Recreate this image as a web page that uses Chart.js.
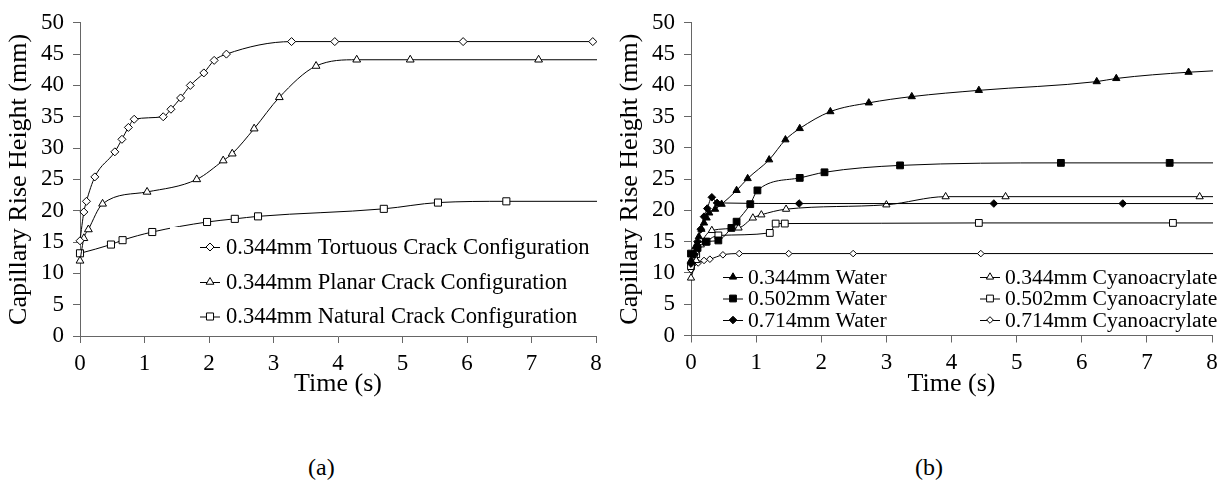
<!DOCTYPE html>
<html><head><meta charset="utf-8">
<script src="https://cdn.jsdelivr.net/npm/chart.js@4.4.1/dist/chart.umd.min.js"></script>
<style>
html,body{margin:0;padding:0;background:#fff;width:1228px;height:484px;overflow:hidden;}
.cap{position:absolute;font-family:"Liberation Serif";font-size:24px;color:#000;top:453px;line-height:28px;}
</style></head><body>
<canvas id="ca" width="614" height="400" style="position:absolute;left:0;top:0"></canvas>
<canvas id="cb" width="614" height="400" style="position:absolute;left:614px;top:0"></canvas>
<div class="cap" style="left:308px">(a)</div>
<div class="cap" style="left:915px">(b)</div>
<script>
// ---------- data: chart (a) ----------
const xTicksA = [0,1,2,3,4,5,6,7,8];
const yTicksA = [0,5,10,15,20,25,30,35,40,45,50];
const labelsA = ["0.344mm Tortuous Crack Configuration","0.344mm Planar Crack Configuration","0.344mm Natural Crack Configuration"];
const tortT = [0.00,0.06,0.10,0.23,0.54,0.65,0.75,0.84,1.29,1.41,1.56,1.71,1.92,2.08,2.27,3.28,3.95,5.94,7.95,8.6];
const tortH = [15.2,19.8,21.5,25.4,29.4,31.4,33.3,34.6,35.0,36.2,38.0,40.0,42.0,44.0,45.0,47.0,47.0,47.0,47.0,47.0];
const planT = [0.00,0.06,0.13,0.35,1.04,1.81,2.22,2.36,2.70,3.09,3.66,4.29,5.12,7.11,8.6];
const planH = [12.0,15.6,17.0,21.1,23.0,25.0,28.0,29.1,33.1,38.1,43.1,44.1,44.1,44.1,44.1];
const natT  = [0.00,0.48,0.66,1.12,1.97,2.40,2.76,4.71,5.55,6.61,8.6];
const natH  = [13.2,14.6,15.3,16.6,18.2,18.7,19.1,20.3,21.3,21.5,21.5];
// ---------- data: chart (b) ----------
const labelsB = ["0.344mm Water","0.502mm Water","0.714mm Water","0.344mm Cyanoacrylate","0.502mm Cyanoacrylate","0.714mm Cyanoacrylate"];
const w344T = [0.00,0.07,0.12,0.16,0.20,0.24,0.28,0.37,0.47,0.70,0.87,1.20,1.45,1.67,2.14,2.73,3.39,4.42,6.23,6.53,7.64,8.6];
const w344H = [12.0,14.2,15.8,17.0,18.0,18.8,19.6,20.2,21.0,23.2,25.1,28.1,31.3,33.1,35.8,37.2,38.2,39.2,40.6,41.1,42.1,42.6];
const w502T = [0.00,0.10,0.23,0.42,0.62,0.70,0.91,1.02,1.67,2.05,3.21,5.68,7.35,8.6];
const w502H = [13.1,14.0,15.0,15.2,17.2,18.2,21.0,23.2,25.2,26.1,27.2,27.6,27.6,27.6];
const w714T = [0.00,0.05,0.10,0.15,0.20,0.25,0.32,0.40,1.66,4.65,6.63,8.6];
const w714H = [11.5,13.0,15.0,17.0,19.0,20.3,22.1,21.2,21.1,21.1,21.1,21.1];
const c344T = [0.00,0.08,0.15,0.32,0.73,0.95,1.08,1.46,3.00,3.91,4.83,7.81,8.6];
const c344H = [9.2,12.0,14.5,16.8,17.2,18.8,19.3,20.2,20.9,22.2,22.2,22.2,22.2];
const c502T = [0.00,0.08,0.24,0.42,1.21,1.30,1.44,4.42,7.40,8.6];
const c502H = [11.1,13.0,15.0,16.0,16.4,17.9,17.9,18.0,18.0,18.0];
const c714T = [0.00,0.11,0.20,0.29,0.49,0.74,1.50,2.49,4.45,8.6];
const c714H = [10.5,11.6,12.0,12.2,12.9,13.1,13.1,13.1,13.1,13.1];

const FONT = "Liberation Serif";
const pts = (t,h) => t.map((x,i)=>({x:x,y:h[i]}));

function ds(label, t, h, style, filled, radius){
  return {label, data: pts(t,h), showLine:true, borderColor:'#000', borderWidth:1,
    pointStyle:style, pointRadius:radius, pointHoverRadius:radius,
    pointBackgroundColor: filled ? '#000' : '#fff', pointBorderColor:'#000', pointBorderWidth:1,
    cubicInterpolationMode:'monotone', fill:false, clip:{left:8,top:8,right:1,bottom:8}};
}

const legendPlugin = {
  id:'customLegend',
  afterDatasetsDraw(chart, args, opts){
    if(!opts || !opts.items) return;
    const ctx = chart.ctx;
    ctx.save();
    if (opts.box){ ctx.fillStyle='#fff'; ctx.fillRect(opts.box[0],opts.box[1],opts.box[2],opts.box[3]); }
    ctx.font = opts.fontSize + 'px "' + FONT + '"';
    ctx.textBaseline = 'middle';
    opts.items.forEach(it=>{
      const d = chart.data.datasets[it.index];
      ctx.strokeStyle='#000'; ctx.lineWidth=1;
      ctx.beginPath(); ctx.moveTo(it.x-opts.seg, it.y+0.5); ctx.lineTo(it.x+opts.seg, it.y+0.5); ctx.stroke();
      ctx.fillStyle = d.pointBackgroundColor; ctx.strokeStyle='#000'; ctx.lineWidth=1;
      Chart.helpers.drawPoint(ctx, {pointStyle:d.pointStyle, radius:d.pointRadius, borderWidth:1, rotation:0}, it.x, it.y);
      ctx.fillStyle='#000';
      ctx.fillText(d.label, it.x+opts.gap, it.y+1);
    });
    ctx.restore();
  }
};

function axes(yWidth, xHeight, titlePad){
  const tickFont = {family:FONT, size:23};
  return {
    x:{type:'linear', min:0, max:8,
       afterBuildTicks: s => { s.ticks = xTicksA.map(v=>({value:v})); },
       afterFit: s => { s.height = xHeight; },
       grid:{drawOnChartArea:false, drawTicks:true, tickLength:7, color:'#666'},
       border:{color:'#666', width:1},
       ticks:{font:tickFont, color:'#000', padding:7, maxRotation:0},
       title:{display:true, text:'Time (s)', font:{family:FONT,size:26}, color:'#000', padding:{top:0,bottom:0}}},
    y:{type:'linear', min:0, max:50,
       afterBuildTicks: s => { s.ticks = yTicksA.map(v=>({value:v})); },
       afterFit: s => { s.width = yWidth; },
       grid:{drawOnChartArea:false, drawTicks:true, tickLength:7, color:'#666'},
       border:{color:'#666', width:1},
       ticks:{font:tickFont, color:'#000', padding:9},
       title:{display:true, text:'Capillary Rise Height (mm)', font:{family:FONT,size:26}, color:'#000', padding:{top:titlePad,bottom:0}}}
  };
}

new Chart(document.getElementById('ca'), {
  type:'scatter',
  data:{datasets:[
    ds(labelsA[0], tortT, tortH, 'rectRot', false, 4),
    ds(labelsA[1], planT, planH, 'triangle', false, 4.5),
    ds(labelsA[2], natT, natH, 'rect', false, 5)
  ]},
  options:{responsive:false, animation:false, events:[],
    layout:{padding:{left:0, top:21, right:18, bottom:0}},
    scales: axes(80, 64, 4),
    plugins:{legend:{display:false}, tooltip:{enabled:false},
      customLegend:{fontSize:22.6, seg:10, gap:16, box:[170,227,425,107],
        items:[{index:0,x:210,y:247},{index:1,x:210,y:282},{index:2,x:210,y:316.5}]}}
  },
  plugins:[legendPlugin]
});

new Chart(document.getElementById('cb'), {
  type:'scatter',
  data:{datasets:[
    ds(labelsB[0], w344T, w344H, 'triangle', true, 4.2),
    ds(labelsB[1], w502T, w502H, 'rect', true, 4.8),
    ds(labelsB[2], w714T, w714H, 'rectRot', true, 3.8),
    ds(labelsB[3], c344T, c344H, 'triangle', false, 4.2),
    ds(labelsB[4], c502T, c502H, 'rect', false, 4.8),
    ds(labelsB[5], c714T, c714H, 'rectRot', false, 3.3)
  ]},
  options:{responsive:false, animation:false, events:[],
    layout:{padding:{left:0, top:19, right:16, bottom:0}},
    scales: axes(77, 64.5, 1),
    plugins:{legend:{display:false}, tooltip:{enabled:false},
      customLegend:{fontSize:21.6, seg:10, gap:15,
        items:[{index:0,x:119,y:277},{index:1,x:119,y:298.5},{index:2,x:119,y:320},
               {index:3,x:376,y:277},{index:4,x:376,y:298.5},{index:5,x:376,y:320}]}}
  },
  plugins:[legendPlugin]
});
</script>
</body></html>
